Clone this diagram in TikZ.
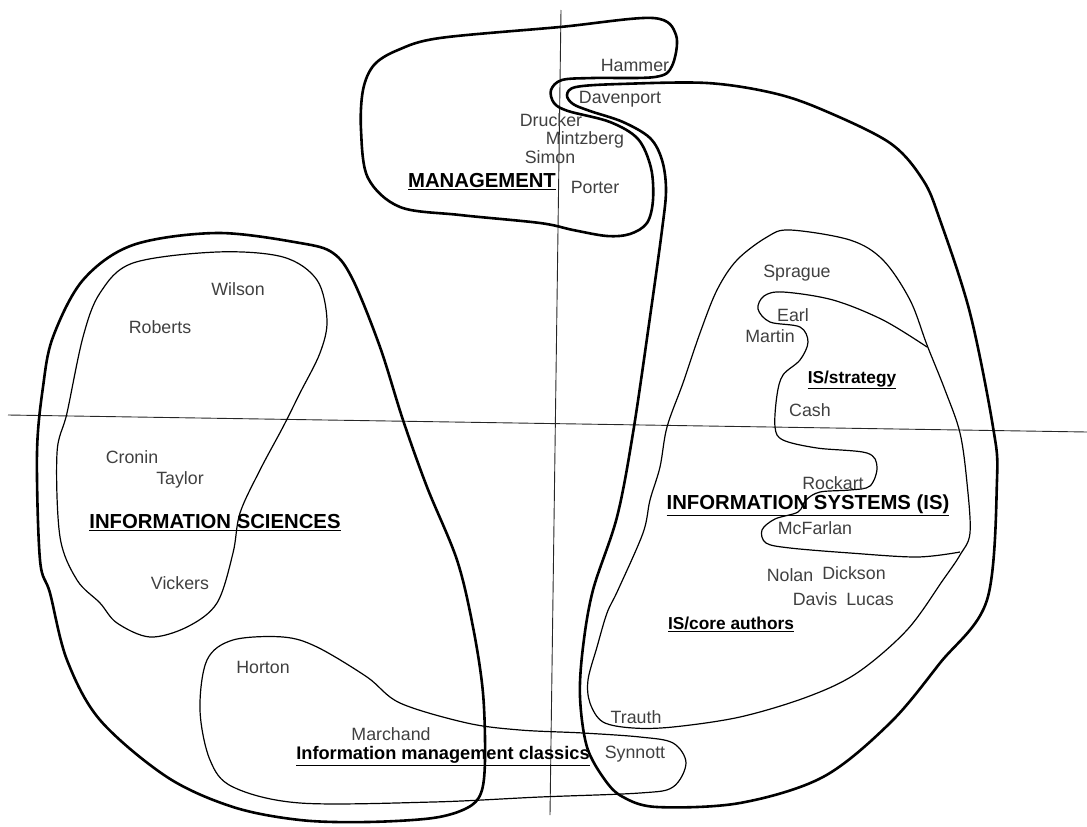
\documentclass[tikz,border=0pt]{standalone}
\usepackage{fontspec}
\setmainfont{Liberation Sans}
\begin{document}
\begin{tikzpicture}[x=1pt, y=-1pt,
    field/.style={line width=2.6pt, line join=round},
    group/.style={line width=1.2pt, line join=round},
    axis/.style={line width=0.9pt, black!85},
    author/.style={font=\fontsize{17.8}{20}\selectfont, text=black!75, inner sep=0pt},
    areaname/.style={font=\fontsize{20.3}{23}\selectfont\bfseries, inner sep=0pt},
    subname/.style={font=\fontsize{17.3}{20}\selectfont\bfseries, inner sep=0pt}]
  \useasboundingbox (0,0) rectangle (1087,827);
  % axes
  \draw[axis] (561,10) -- (550,815);
  \draw[axis] (8,415) -- (1087,432);
  % thick fields
  \draw[field] plot[smooth cycle, tension=0.55] coordinates {
      (398,50) (440,38) (560,27) (653,18) (676,35) (672,66) (655,77) (593,78)
      (562,80) (551,90) (554,103) (568,111) (610,122) (638,139) (651,168) (653,200)
      (647,223) (630,234) (607,236) (573,230) (540,223) (460,215) (400,207)
      (368,178) (361,130) (363,90) (374,65)};
  \draw[field] plot[smooth cycle, tension=0.55] coordinates {
      (707,83) (773,93) (823,110) (890,143) (923,180) (940,220) (970,313)
      (993,427) (997,480) (987,600) (940,663) (890,723) (823,777) (740,803)
      (657,807) (623,797) (605,780) (587,747) (580,697) (583,647) (593,590)
      (617,517) (633,433) (650,317) (662,230) (666,190) (662,160) (650,138)
      (623,122) (590,111) (573,104) (567,95) (576,87) (620,84)};
  \draw[field] plot[smooth cycle, tension=0.55] coordinates {
      (133,245) (217,233) (300,243) (333,253) (353,280) (380,347) (403,420)
      (427,487) (457,560) (473,627) (483,693) (485,760) (481,793) (467,808)
      (433,818) (367,822) (300,820) (233,807) (167,777) (100,720) (67,660)
      (50,593) (40,560) (37,453) (43,387) (53,337) (83,280)};
  % thin groups
  \draw[group] plot[smooth cycle, tension=0.55] coordinates {
      (133,263) (217,252) (283,257) (317,280) (327,320) (320,353) (300,393)
      (283,427) (260,470) (240,513) (233,553) (217,603) (187,627) (150,637)
      (117,623) (100,603) (77,580) (60,537) (57,453) (67,413) (83,337) (100,293)};
  \draw[group] plot[smooth cycle, tension=0.55] coordinates {
      (207,660) (233,640) (283,637) (317,647) (367,677) (400,703) (467,723)
      (520,730) (583,733) (640,737) (673,743) (686,763) (673,787) (640,793)
      (540,797) (433,802) (300,803) (233,787) (210,760) (200,710)};
  \draw[group] plot[smooth cycle, tension=0.55] coordinates {
      (790,230) (850,240) (883,260) (910,300) (927,345) (945,390) (960,433)
      (967,483) (970,533) (960,555) (943,580) (907,630) (857,673) (807,697)
      (740,717) (673,727) (633,728) (603,722) (590,703) (588,680) (597,647)
      (607,613) (618,590) (643,533) (650,500) (660,467) (667,427) (683,383)
      (700,333) (717,290) (737,260) (767,237)};
  \draw[group] plot[smooth, tension=0.55] coordinates {
      (927,347) (883,320) (833,300) (783,292) (764,296) (758,309) (770,322)
      (800,327) (808,342) (800,360) (783,375) (777,395) (775,427) (783,440)
      (817,448) (867,453) (877,467) (870,486) (850,490) (820,492) (806,500)
      (798,512) (775,519) (762,530) (766,543) (790,548) (850,553) (917,557)
      (960,552)};
  % management
  \node[author] (hammer) at (635,65) {Hammer};
  \node[author] (davenport) at (620,99) {Davenport};
  \node[author] (drucker) at (551,120) {Drucker};
  \node[author] (mintzberg) at (585,140) {Mintzberg};
  \node[author] (simon) at (550,157) {Simon};
  \node[author] (porter) at (595,187) {Porter};
  \node[areaname] (mgmt) at (482,182) {\underline{MANAGEMENT}};
  % information sciences
  \node[author] (wilson) at (238,289) {Wilson};
  \node[author] (roberts) at (160,327) {Roberts};
  \node[author] (cronin) at (132,457) {Cronin};
  \node[author] (taylor) at (180,480) {Taylor};
  \node[author] (vickers) at (180,583) {Vickers};
  \node[areaname] (infsci) at (215,523) {\underline{INFORMATION SCIENCES}};
  % classics
  \node[author] (horton) at (263,667) {Horton};
  \node[author] (marchand) at (391,734) {Marchand};
  \node[author] (synnott) at (635,754) {Synnott};
  \node[subname, font=\fontsize{18.2}{20}\selectfont\bfseries] (classics) at (443,756) {\underline{Information management classics}};
  % information systems
  \node[author] (sprague) at (797,273) {Sprague};
  \node[author] (earl) at (793,315) {Earl};
  \node[author] (martin) at (770,336) {Martin};
  \node[author] (cash) at (810,410) {Cash};
  \node[author] (rockart) at (833,483) {Rockart};
  \node[author] (mcfarlan) at (815,528) {McFarlan};
  \node[author] (nolan) at (790,575) {Nolan};
  \node[author] (dickson) at (854,573) {Dickson};
  \node[author] (davis) at (815,599) {Davis};
  \node[author] (lucas) at (870,599) {Lucas};
  \node[author] (trauth) at (636,717) {Trauth};
  \node[subname] (strategy) at (852,380) {\underline{IS/strategy}};
  \node[subname] (core) at (731,624) {\underline{IS/core authors}};
  \node[areaname] (infsys) at (808,505) {\underline{INFORMATION SYSTEMS (IS)}};
\end{tikzpicture}
\end{document}
